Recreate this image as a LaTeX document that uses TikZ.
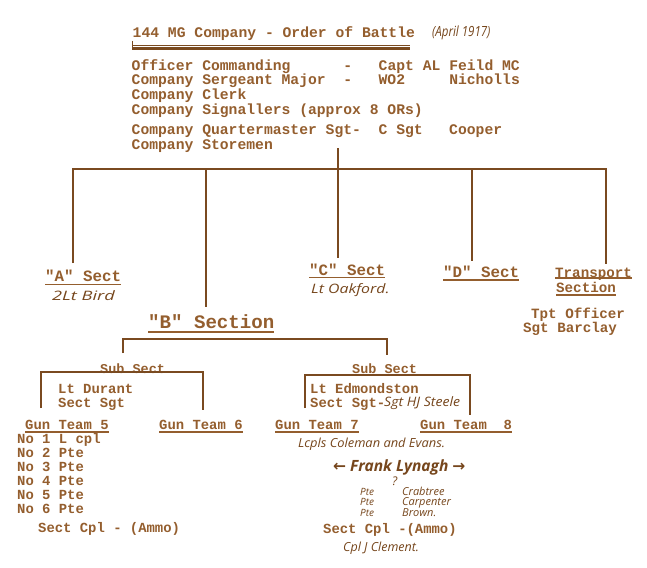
\documentclass[tikz,border=0pt]{standalone}
\usepackage{graphicx}
\usepackage{fontspec}
\setmonofont{Liberation Mono}
\newfontfamily\handfont{Open Sans}
\newfontfamily\arrfont{DejaVu Sans}
\definecolor{tcol}{RGB}{148,94,46}
\definecolor{lcol}{RGB}{122,74,32}
\definecolor{hcol}{RGB}{118,70,28}
\newcommand{\hsz}[1]{\handfont\itshape\fontsize{#1}{#1}\selectfont}
\begin{document}
\begin{tikzpicture}[x=1pt,y=-1pt,
  tw/.style={font=\ttfamily\bfseries\fontsize{14.7}{14.7}\selectfont, text=tcol, inner sep=0pt, anchor=base west},
  tws/.style={font=\ttfamily\bfseries\fontsize{13.9}{13.9}\selectfont, text=tcol, inner sep=0pt, anchor=base west},
  twl/.style={font=\ttfamily\bfseries\fontsize{15.8}{15.8}\selectfont, text=tcol, inner sep=0pt, anchor=base west},
  hw/.style={font=\hsz{12}, text=hcol, inner sep=0pt, anchor=base west},
  conn/.style={draw=lcol, line width=1.7pt, line join=miter},
  ul/.style={draw=tcol, line width=1.1pt}
]
\useasboundingbox[fill=white] (0,0) rectangle (647,567);

% title
\node[tw] (title) at (132.5,38) {144 MG Company - Order of Battle};
\node[hw, font=\hsz{14}] (date) at (432,37) {\scalebox{0.82}[1]{(April 1917)}};
\coordinate (ulA) at (132,45.5);
\coordinate (ulB) at (410,45.5);
\coordinate (ulC) at (132,48.7);
\coordinate (ulD) at (410,48.7);
\coordinate (tickT) at (132.8,41);
\coordinate (tickB) at (132.8,49);
\draw[draw=lcol, line width=0.9pt] (ulA) -- (ulB);
\draw[draw=lcol, line width=3pt] (ulC) -- (ulD);
\draw[draw=lcol, line width=0.9pt] (tickT) -- (tickB);

% HQ block
\node[tw] (oc) at (131.5,70.7) {Officer Commanding~~~~~~-~~~Capt AL Feild MC};
\node[tw] (csm) at (131.5,85) {Company Sergeant Major~~-~~~WO2~~~~~Nicholls};
\node[tw] (clerk) at (131.5,99.3) {Company Clerk};
\node[tw] (sig) at (131.5,114.3) {Company Signallers (approx 8 ORs)};
\node[tw] (cqms) at (131.5,135) {Company Quartermaster Sgt-~~C Sgt~~~Cooper};
\node[tw] (store) at (131.5,149.3) {Company Storemen};

% main connectors
\coordinate (hq) at (338,148);
\coordinate (hub) at (338,169);
\coordinate (busL) at (73,169);
\coordinate (busR) at (606,169);
\coordinate (endA) at (73,263);
\coordinate (topB) at (206,169);
\coordinate (endB) at (206,307);
\coordinate (endC) at (338,258);
\coordinate (topD) at (472,169);
\coordinate (endD) at (472,261);
\coordinate (endT) at (606,264);
\draw[conn] (hq) -- (hub);
\draw[conn, line width=2.2pt] (endA) -- (busL) -- (busR) -- (endT);
\draw[conn] (topB) -- (endB);
\draw[conn] (hub) -- (endC);
\draw[conn] (topD) -- (endD);

% sections
\node[twl] (secA) at (45,281.5) {"A" Sect};
\draw[ul] ([yshift=-3pt]secA.base west) -- ([yshift=-3pt]secA.base east);
\node[hw, font=\hsz{13}] (bird) at (52,300) {\scalebox{1.4}[1]{2Lt Bird}};

\node[twl] (secC) at (309,275) {"C" Sect};
\draw[ul] ([yshift=-2.5pt]secC.base west) -- ([yshift=-2.5pt]secC.base east);
\node[hw, font=\hsz{13}] (oak) at (311,293) {\scalebox{1.22}[1]{Lt Oakford.}};

\node[twl] (secD) at (443,277) {"D" Sect};
\draw[ul] ([yshift=-3pt]secD.base west) -- ([yshift=-3pt]secD.base east);

\node[tw, font=\ttfamily\bfseries\fontsize{14.2}{14.2}\selectfont] (tr1) at (555,277) {Transport};
\draw[ul] ([yshift=-1pt]tr1.base west) -- ([yshift=-1pt]tr1.base east);
\node[tw, font=\ttfamily\bfseries\fontsize{14.2}{14.2}\selectfont] (tr2) at (556,292) {Section};
\draw[ul] ([yshift=-3pt]tr2.base west) -- ([yshift=-3pt]tr2.base east);
\node[tw, font=\ttfamily\bfseries\fontsize{14.2}{14.2}\selectfont] (tpt) at (531,318) {Tpt Officer};
\node[tw, font=\ttfamily\bfseries\fontsize{14.2}{14.2}\selectfont] (barc) at (523,332) {Sgt Barclay};

% B section
\node[tw, font=\ttfamily\bfseries\fontsize{19.1}{19.1}\selectfont] (secB) at (148,328) {"B" Section};
\draw[draw=tcol, line width=1.8pt] ([yshift=-4pt]secB.base west) -- ([yshift=-4pt]secB.base east);
\coordinate (bL) at (123,353);
\coordinate (bLt) at (123,339);
\coordinate (bRt) at (387,339);
\coordinate (bR) at (387,355);
\draw[conn] (bL) -- (bLt) -- (bRt) -- (bR);

% left sub sect
\node[tws, font=\ttfamily\bfseries\fontsize{13.5}{13.5}\selectfont] (sub1) at (100,373) {Sub Sect};
\coordinate (s1L) at (41,408);
\coordinate (s1Lt) at (41,372);
\coordinate (s1Rt) at (203,372);
\coordinate (s1R) at (203,410);
\draw[conn] (s1L) -- (s1Lt) -- (s1Rt) -- (s1R);
\node[tws] (dur) at (58,393) {Lt Durant};
\node[tws] (ssg1) at (58,407) {Sect Sgt};

\node[tws] (gt5) at (25,429) {Gun Team 5};
\draw[ul] ([yshift=-3pt]gt5.base west) -- ([yshift=-3pt]gt5.base east);
\node[tws] (gt6) at (159,429) {Gun Team 6};
\draw[ul] ([yshift=-3pt]gt6.base west) -- ([yshift=-3pt]gt6.base east);

\node[tws] (no1) at (17,443) {No 1 L cpl};
\node[tws] (no2) at (17,457) {No 2 Pte};
\node[tws] (no3) at (17,471) {No 3 Pte};
\node[tws] (no4) at (17,485) {No 4 Pte};
\node[tws] (no5) at (17,499) {No 5 Pte};
\node[tws] (no6) at (17,513) {No 6 Pte};
\node[tws] (cpl1) at (38,532) {Sect Cpl - (Ammo)};

% right sub sect
\node[tws, font=\ttfamily\bfseries\fontsize{13.5}{13.5}\selectfont] (sub2) at (352,373) {Sub Sect};
\coordinate (s2L) at (305,408);
\coordinate (s2Lt) at (305,375);
\coordinate (s2Rt) at (470,375);
\coordinate (s2R) at (470,415);
\draw[conn] (s2L) -- (s2Lt) -- (s2Rt) -- (s2R);
\node[tws] (edm) at (310,393) {Lt Edmondston};
\node[tws] (ssg2) at (310,407) {Sect Sgt-};
\node[hw, font=\hsz{13}] (steele) at (384,406) {\scalebox{1.08}[1]{Sgt HJ Steele}};

\node[tws] (gt7) at (275,429) {Gun Team 7};
\draw[ul] ([yshift=-3pt]gt7.base west) -- ([yshift=-3pt]gt7.base east);
\node[tws] (gt8) at (420,429) {Gun Team~~8};
\draw[ul] ([yshift=-3pt]gt8.base west) -- ([yshift=-3pt]gt8.base east);

\node[hw, font=\hsz{12.5}] (lcpl) at (298,447) {\scalebox{1.03}[1]{Lcpls Coleman and Evans.}};
\node[hw, font=\handfont\bfseries\itshape\fontsize{15.5}{15.5}\selectfont] (frank) at (333,471) {{\arrfont\bfseries ←} Frank Lynagh {\arrfont\bfseries →}};
\node[hw, font=\hsz{12}] (qm) at (392,485) {?};
\node[hw, font=\hsz{10}] (pte1) at (360,495) {Pte};
\node[hw, font=\hsz{10}] (pte2) at (360,505.5) {Pte};
\node[hw, font=\hsz{10}] (pte3) at (360,516) {Pte};
\node[hw, font=\hsz{11}] (crab) at (402,495) {Crabtree};
\node[hw, font=\hsz{11}] (carp) at (402,505.5) {Carpenter};
\node[hw, font=\hsz{11}] (brown) at (402,516) {Brown.};
\node[tws] (cpl2) at (323,533) {Sect Cpl -(Ammo)};
\node[hw, font=\hsz{12.5}] (clem) at (343,551) {Cpl J Clement.};
\end{tikzpicture}
\end{document}
